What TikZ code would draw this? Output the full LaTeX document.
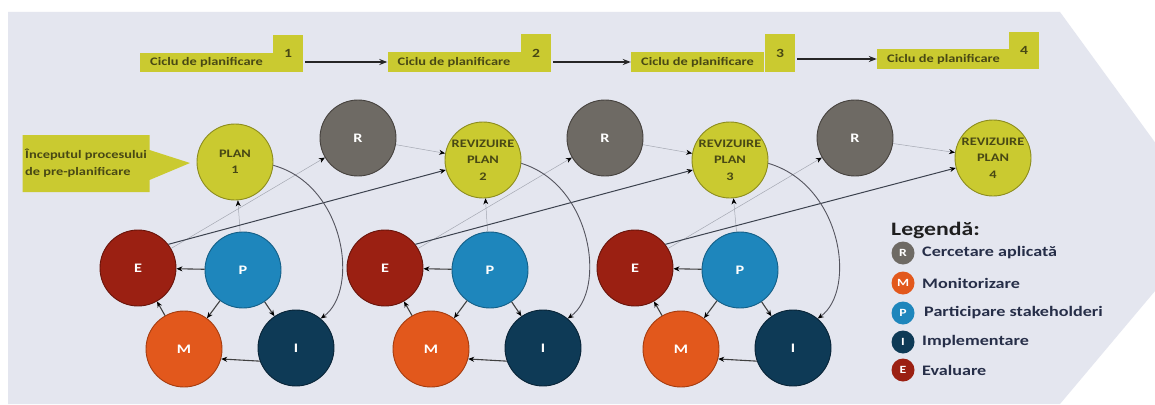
\documentclass[tikz,border=0pt]{standalone}
\usepackage{fontspec}
\setmainfont{Carlito}[FakeStretch=1.25]
\usetikzlibrary{arrows.meta,shapes.callouts}
\definecolor{bg}{RGB}{228,230,239}
\definecolor{ylw}{RGB}{202,202,48}
\definecolor{ylwd}{RGB}{140,140,30}
\definecolor{olive}{RGB}{72,72,20}
\definecolor{rgray}{RGB}{110,106,100}
\definecolor{rgrayd}{RGB}{70,66,62}
\definecolor{ered}{RGB}{155,32,18}
\definecolor{eredd}{RGB}{105,20,10}
\definecolor{pblue}{RGB}{30,134,188}
\definecolor{pblued}{RGB}{20,95,135}
\definecolor{morange}{RGB}{226,88,28}
\definecolor{moranged}{RGB}{165,60,15}
\definecolor{inavy}{RGB}{14,58,86}
\definecolor{inavyd}{RGB}{8,36,55}
\definecolor{legtext}{RGB}{38,46,72}
\definecolor{thingray}{RGB}{165,168,178}
\definecolor{longgray}{RGB}{60,66,78}
\definecolor{curvegray}{RGB}{85,85,95}
\tikzset{
  circ/.style={circle,minimum size=76pt,inner sep=0pt,line width=0.9pt,
    font=\bfseries\fontsize{13}{16.5}\selectfont,text=white,align=center},
  planc/.style={circ,fill=ylw,draw=ylwd,text=olive,
    font=\bfseries\fontsize{11.5}{16.5}\selectfont},
  rr/.style={circ,fill=rgray,draw=rgrayd},
  ee/.style={circ,fill=ered,draw=eredd},
  pp/.style={circ,fill=pblue,draw=pblued},
  mm/.style={circ,fill=morange,draw=moranged},
  ii/.style={circ,fill=inavy,draw=inavyd},
  headtip/.style={-{Stealth[length=6pt,width=5pt,color=black]}},
  thinln/.style={headtip,draw=thingray,line width=0.5pt},
  longln/.style={headtip,draw=longgray,line width=1pt},
  curveln/.style={headtip,draw=curvegray,line width=0.9pt},
  darkln/.style={headtip,draw=black!75,line width=1.1pt},
  lbl/.style={fill=ylw,minimum height=19pt,minimum width=133pt,inner sep=0pt,
    font=\bfseries\fontsize{11.5}{12}\selectfont,text=olive},
  num/.style={fill=ylw,minimum height=37pt,minimum width=30pt,inner sep=0pt,
    font=\bfseries\fontsize{12.5}{13}\selectfont,text=olive},
  bannerarr/.style={-{Stealth[length=8pt,width=6pt]},draw=black!85,line width=1.4pt},
  lc/.style={circle,minimum size=23pt,inner sep=0pt,text=white,
    font=\bfseries\fontsize{11}{11}\selectfont},
  legtxt/.style={anchor=west,inner sep=0pt,text=legtext,
    font=\bfseries\fontsize{14.5}{15}\selectfont}
}
\begin{document}
\begin{tikzpicture}[x=1pt,y=-1pt]
\useasboundingbox (0,0) rectangle (1155,404);
\clip (0,0) rectangle (1155,404);
\fill[white] (0,0) rectangle (1155,404);
\fill[bg] (8,12) -- (1060,12) -- (1213,222) -- (1060,404) -- (8,404) -- cycle;

% banner
\node[lbl] (l1) at (206.5,62.5) {Ciclu de planificare};
\node[num] (n1) at (288,53.5) {1};
\node[lbl] (l2) at (454,62) {Ciclu de planificare};
\node[num] (n2) at (536,53) {2};
\node[lbl] (l3) at (697.5,62) {Ciclu de planificare};
\node[num] (n3) at (780,53) {3};
\node[lbl] (l4) at (943.5,59) {Ciclu de planificare};
\node[num] (n4) at (1024,50.5) {4};
\draw[bannerarr,shorten <=2pt] (n1.east |- l2.west) -- (l2.west);
\draw[bannerarr,shorten <=2pt] (n2.east |- l3.west) -- (l3.west);
\draw[bannerarr,shorten <=2pt] (n3.east |- l4.west) -- (l4.west);

% plan nodes
\node[planc] (plan1) at (235,162) {PLAN\\1};
\node[planc] (plan2) at (483,160) {REVIZUIRE\\PLAN\\2};
\node[planc] (plan3) at (730,160) {REVIZUIRE\\PLAN\\3};
\node[planc] (plan4) at (993,158) {REVIZUIRE\\PLAN\\4};

% callout
\node[rectangle callout,fill=ylw,callout absolute pointer={(190,163)},
  callout pointer width=30pt,inner xsep=0pt,minimum width=127pt,
  minimum height=57pt,align=left,text=olive,
  font=\bfseries\fontsize{11.5}{17}\selectfont] (start) at (86,163.5)
  {Începutul procesului\\de pre-planificare};

\foreach \k/\dx in {1/0,2/247,3/497}{
  \pgfmathtruncatemacro\n{\k+1}
  \node[rr] (r\k) at ({358+\dx},138) {R};
  \node[ee] (e\k) at ({138+\dx},268) {E};
  \node[pp] (p\k) at ({243+\dx},270) {P};
  \node[mm] (m\k) at ({184+\dx},349) {M};
  \node[ii] (i\k) at ({296+\dx},348) {I};
  \draw[thinln] (p\k) -- (plan\k);
  \draw[thinln] (e\k) -- (r\k);
  \draw[thinln] (r\k) -- (plan\n);
  \draw[longln] (e\k.38) -- (plan\n.195);
  \draw[curveln] (plan\k.-5) .. controls ({345+\dx},185) and ({360+\dx},290) .. (i\k.50);
  \draw[darkln] (p\k) -- (e\k);
  \draw[darkln] (p\k) -- (m\k);
  \draw[darkln] (p\k) -- (i\k);
  \draw[darkln] (i\k.200) -- (m\k.-15);
  \draw[darkln] (m\k) -- (e\k);
}

% legend
\node[anchor=west,inner sep=0pt,text=black!88,
  font=\bfseries\fontsize{19}{19}\selectfont] (legtitle) at (891,230) {Legendă:};
\node[lc,fill=rgray] (lr) at (903,253) {R};
\node[legtxt] (tr) at (922,253) {Cercetare aplicată};
\node[lc,fill=morange] (lm) at (903,283) {M};
\node[legtxt] (tm) at (922,283) {Monitorizare};
\node[lc,fill=pblue] (lp) at (903,313) {P};
\node[legtxt] (tp) at (924,313) {Participare stakeholderi};
\node[lc,fill=inavy] (li) at (903,342) {I};
\node[legtxt] (ti) at (922,342) {Implementare};
\node[lc,fill=ered] (le) at (903,370) {E};
\node[legtxt] (te) at (922,370) {Evaluare};
\end{tikzpicture}
\end{document}
